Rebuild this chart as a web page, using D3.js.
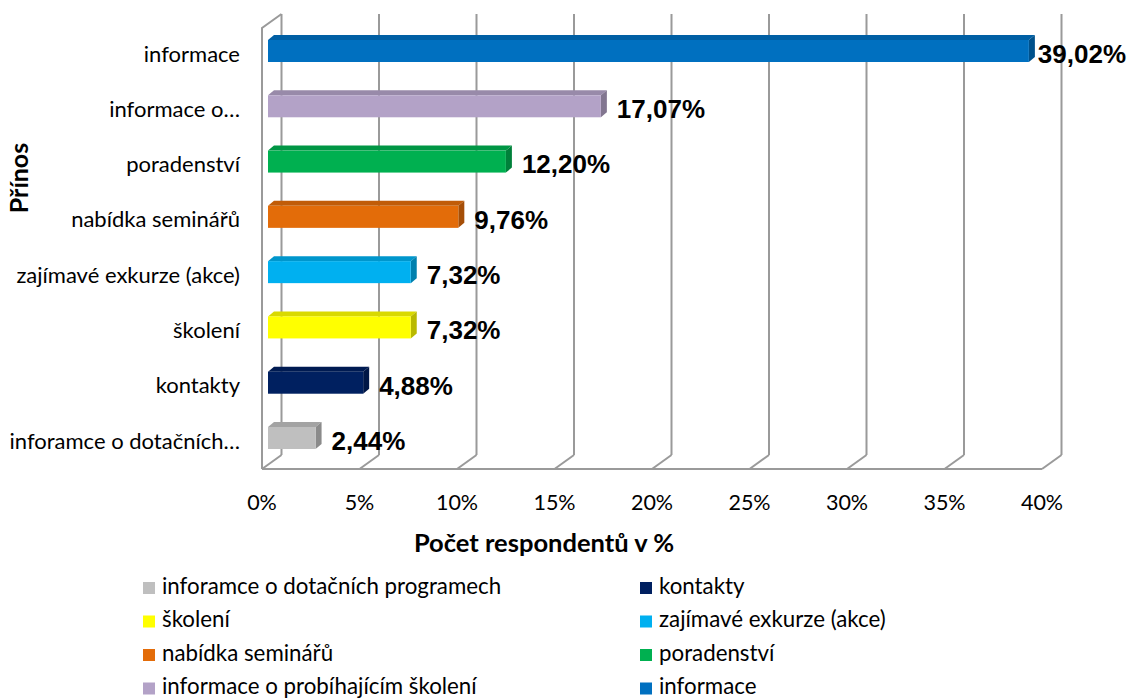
<!DOCTYPE html>
<html><head><meta charset="utf-8">
<script src="https://cdn.jsdelivr.net/npm/d3@7"></script>
<style>body{margin:0;background:#fff}svg{display:block}</style>
</head><body>
<svg id="c" width="1130" height="698"></svg>
<script>
const categories = ["informace","informace o probíhajícím školení","poradenství","nabídka seminářů","zajímavé exkurze (akce)","školení","kontakty","inforamce o dotačních programech"];
const axisLabels = ["informace","informace o…","poradenství","nabídka seminářů","zajímavé exkurze (akce)","školení","kontakty","inforamce o dotačních…"];
const values = [39.02,17.07,12.20,9.76,7.32,7.32,4.88,2.44];
const valueLabels = ["39,02%","17,07%","12,20%","9,76%","7,32%","7,32%","4,88%","2,44%"];
const colors = ["#0070C0","#B3A2C7","#00B050","#E36C09","#00B0F0","#FFFF00","#002060","#BFBFBF"];
const ticks = [0,5,10,15,20,25,30,35,40];
const legendOrder = [7,6,5,4,3,2,1,0];

const svg = d3.select("#c");
const font = "Lato, 'Open Sans', sans-serif";
const x = d3.scaleLinear().domain([0,40]).range([262,1042]);
const y = d3.scalePoint().domain(categories).range([51,438]);
const DX = 19.5, DY = -14;     // wall depth
const yFront = 469, yTopFront = 28;
const grid = "#9a9a9a";

const g = svg.append("g");
// back gridlines
g.selectAll(".bg").data(ticks).join("line")
  .attr("x1", d=>x(d)+DX).attr("x2", d=>x(d)+DX)
  .attr("y1", yTopFront+DY).attr("y2", yFront+DY)
  .attr("stroke", grid).attr("stroke-width",2);
// floor diagonals
g.selectAll(".fd").data(ticks).join("line")
  .attr("x1", d=>x(d)).attr("x2", d=>x(d)+DX)
  .attr("y1", yFront).attr("y2", yFront+DY)
  .attr("stroke", grid).attr("stroke-width",2);
// front floor edge
g.append("line").attr("x1",x(0)).attr("x2",x(40)).attr("y1",yFront).attr("y2",yFront)
  .attr("stroke",grid).attr("stroke-width",2);
// left wall front edge and top
g.append("path").attr("d",`M${x(0)},${yFront}L${x(0)},${yTopFront}L${x(0)+DX},${yTopFront+DY}`)
  .attr("fill","none").attr("stroke",grid).attr("stroke-width",2);

// bars
const off = 6, bh = 22, bdx = 6, bdy = -5;
const bars = g.selectAll(".bar").data(categories).join("g");
bars.each(function(c,i){
  const sel = d3.select(this);
  const col = d3.color(colors[i]);
  const x0 = x(0)+off, x1 = x(values[i])+off;
  const yt = y(c)-bh/2, yb = y(c)+bh/2;
  sel.append("path").attr("d",`M${x0},${yt}L${x0+bdx},${yt+bdy}L${x1+bdx},${yt+bdy}L${x1},${yt}Z`)
    .attr("fill", col.darker(0.45));
  sel.append("path").attr("d",`M${x1},${yt}L${x1+bdx},${yt+bdy}L${x1+bdx},${yb+bdy}L${x1},${yb}Z`)
    .attr("fill", col.darker(0.9));
  sel.append("rect").attr("x",x0).attr("y",yt).attr("width",x1-x0).attr("height",bh).attr("fill",colors[i]);
  const t = sel.append("text").attr("x",x1+bdx+10).attr("y",y(c)+5).attr("dominant-baseline","middle")
    .attr("font-family","Arial, 'Liberation Sans', sans-serif").attr("font-weight","bold").attr("font-size",26)
    .attr("fill","#000").text(valueLabels[i]);
  const w = t.node().getComputedTextLength();
  if (x1+bdx+10+w > 1126) t.attr("x", Math.max(x1+bdx+1, 1126-w));
});

// category labels
g.selectAll(".cl").data(categories).join("text")
  .attr("x",240).attr("y",d=>y(d)+5).attr("text-anchor","end").attr("dominant-baseline","middle")
  .attr("font-family",font).attr("font-size",22).attr("fill","#000")
  .text((d,i)=>axisLabels[i]);

// tick labels
g.selectAll(".tl").data(ticks).join("text")
  .attr("x",d=>x(d)).attr("y",505).attr("text-anchor","middle").attr("dominant-baseline","middle")
  .attr("font-family",font).attr("font-size",21.5).attr("fill","#000").text(d=>d+"%");

// axis titles
g.append("text").attr("x",544).attr("y",545).attr("text-anchor","middle").attr("dominant-baseline","middle")
  .attr("font-family",font).attr("font-weight","bold").attr("font-size",25.5).text("Počet respondentů v %");
g.append("text").attr("transform","translate(22,178) rotate(-90)").attr("text-anchor","middle").attr("dominant-baseline","middle")
  .attr("font-family",font).attr("font-weight","bold").attr("font-size",25).text("Přínos");

// legend
const lg = g.selectAll(".lg").data(legendOrder).join("g")
  .attr("transform",(d,k)=>`translate(${k%2===0?143:640},${588+Math.floor(k/2)*33.5})`);
lg.append("rect").attr("x",0).attr("y",-6).attr("width",12).attr("height",12).attr("fill",d=>colors[d]);
lg.append("text").attr("x",19).attr("y",0).attr("dominant-baseline","middle")
  .attr("font-family",font).attr("font-size",22.3).attr("fill","#000").text(d=>categories[d]);
</script>
</body></html>
